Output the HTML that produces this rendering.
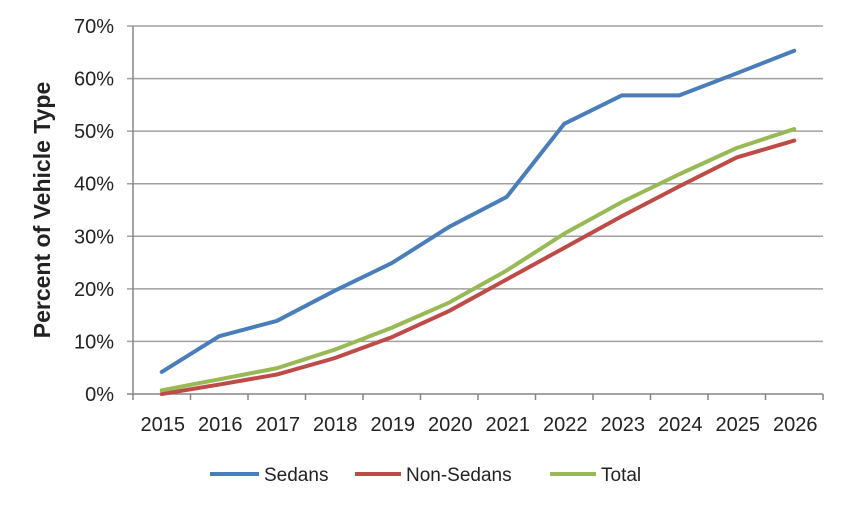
<!DOCTYPE html>
<html><head><meta charset="utf-8"><style>
body{margin:0;background:#fff;}
svg text{font-family:"Liberation Sans",Arial,sans-serif;fill:#222;}
</style></head><body>
<svg width="850" height="511">
<g id="grid"></g><g id="axes"></g><g id="series"></g>
<text transform="translate(50,210) rotate(-90)" text-anchor="middle" font-size="23" font-weight="bold">Percent of Vehicle Type</text>
<g font-size="19">
<g><line x1="210" y1="474" x2="259" y2="474" stroke="#4a7ebb" stroke-width="4"/><text x="264" y="481">Sedans</text></g>
<g><line x1="355" y1="474" x2="401" y2="474" stroke="#be4b48" stroke-width="4"/><text x="406" y="481">Non-Sedans</text></g>
<g><line x1="550" y1="474" x2="596" y2="474" stroke="#98b954" stroke-width="4"/><text x="601" y="481">Total</text></g>
</g>
</svg>
<script>
const categories=["2015","2016","2017","2018","2019","2020","2021","2022","2023","2024","2025","2026"];
const sedans=[4.2,11,13.9,19.6,24.9,31.8,37.5,51.4,56.8,56.8,61,65.3];
const nonSedans=[0,1.8,3.7,6.8,10.8,15.8,21.8,27.8,33.8,39.5,45,48.2];
const total=[0.7,2.8,4.9,8.4,12.6,17.4,23.5,30.5,36.5,41.8,46.8,50.4];
const yTicks=[0,10,20,30,40,50,60,70];
const NS="http://www.w3.org/2000/svg";
const L=133,R=823,T=26,B=394,yMax=70;
const band=(R-L)/categories.length;
const x=i=>L+band*(i+0.5);
const y=v=>B-(v/yMax)*(B-T);
function mk(tag,attrs,parent,txt){const e=document.createElementNS(NS,tag);for(const k in attrs)e.setAttribute(k,attrs[k]);if(txt!==undefined)e.textContent=txt;parent.appendChild(e);return e;}
const grid=document.getElementById('grid'),axes=document.getElementById('axes'),ser=document.getElementById('series');
yTicks.forEach(t=>{
 const g=mk('line',{x1:L-6,x2:R,y1:y(t),y2:y(t),stroke:t===0?'#868686':'#a0a0a0','stroke-width':1.5},grid);
 
 
 const tl=mk('text',{x:L-19,y:y(t)+7,'text-anchor':'end','font-size':20},axes,t+'%');
 
 
});
const ya=mk('line',{x1:L,x2:L,y1:T,y2:B,stroke:'#868686','stroke-width':1.5},axes);


for(let i=0;i<=categories.length;i++){
 const tk=mk('line',{x1:L+band*i,x2:L+band*i,y1:B,y2:B+6,stroke:'#868686','stroke-width':1.5},axes);
 
 
}
categories.forEach((c,i)=>{
 const tl=mk('text',{x:x(i)+1,y:B+37,'text-anchor':'middle','font-size':20},axes,c);
 
 
});
[[sedans,'#4a7ebb','sedans-line'],[nonSedans,'#be4b48','non-sedans-line'],[total,'#98b954','total-line']].forEach(([d,col,name])=>{
 const p=mk('polyline',{points:d.map((v,i)=>x(i)+','+y(v)).join(' '),fill:'none',stroke:col,'stroke-width':4,'stroke-linejoin':'round','stroke-linecap':'round'},ser);
 
 
});
</script>
</body></html>
